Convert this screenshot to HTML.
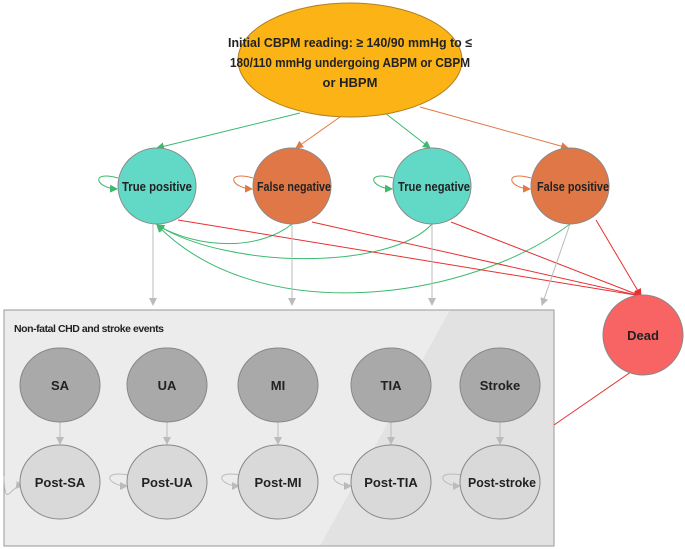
<!DOCTYPE html><html><head><style>body{margin:0;background:#fff}svg{display:block}text{font-family:"Liberation Sans",sans-serif;font-weight:bold;fill:#222}</style></head><body>
<svg width="685" height="549" viewBox="0 0 685 549" xmlns="http://www.w3.org/2000/svg">
<defs>
<marker id="g" markerWidth="8" markerHeight="8" refX="7" refY="4" orient="auto" markerUnits="userSpaceOnUse"><path d="M0,0L8,4L0,8z" fill="#3cba6e"/></marker>
<marker id="o" markerWidth="8" markerHeight="8" refX="7" refY="4" orient="auto" markerUnits="userSpaceOnUse"><path d="M0,0L8,4L0,8z" fill="#e07a45"/></marker>
<marker id="r" markerWidth="8" markerHeight="8" refX="7" refY="4" orient="auto" markerUnits="userSpaceOnUse"><path d="M0,0L8,4L0,8z" fill="#e83030"/></marker>
<marker id="k" markerWidth="8" markerHeight="8" refX="7" refY="4" orient="auto" markerUnits="userSpaceOnUse"><path d="M0,0L8,4L0,8z" fill="#bbb"/></marker>
</defs>
<rect x="4" y="310" width="550" height="236" fill="#ececec" stroke="#999"/>
<polygon points="450,310 554,310 554,546 320,546" fill="#e2e2e2"/>
<rect x="4" y="310" width="550" height="236" fill="none" stroke="#999"/>
<text x="14" y="332" font-size="10.5" font-weight="normal" textLength="150">Non-fatal CHD and stroke events</text>
<g fill="none" stroke-width="1">
<path d="M300,113 L157,148" stroke="#3cba6e" marker-end="url(#g)"/>
<path d="M340,117 L296,148" stroke="#e07a45" marker-end="url(#o)"/>
<path d="M385,113 L430,148" stroke="#3cba6e" marker-end="url(#g)"/>
<path d="M420,107 L568,148" stroke="#e07a45" marker-end="url(#o)"/>
<path d="M118,178 C90,170 95,188 117,189" stroke="#3cba6e" marker-end="url(#g)"/>
<path d="M253,178 C225,170 230,188 252,189" stroke="#e07a45" marker-end="url(#o)"/>
<path d="M393,178 C365,170 370,188 392,189" stroke="#3cba6e" marker-end="url(#g)"/>
<path d="M531,178 C503,170 508,188 530,189" stroke="#e07a45" marker-end="url(#o)"/>
<path d="M292,224 C260,250 200,250 157,225" stroke="#3cba6e" marker-end="url(#g)"/>
<path d="M432,224 C390,270 230,270 157,225" stroke="#3cba6e" marker-end="url(#g)"/>
<path d="M570,224 C470,300 260,330 157,225" stroke="#3cba6e" marker-end="url(#g)"/>
<path d="M178,220 L641,296" stroke="#e83030" marker-end="url(#r)"/>
<path d="M312,222 L641,296" stroke="#e83030" marker-end="url(#r)"/>
<path d="M451,222 L641,296" stroke="#e83030" marker-end="url(#r)"/>
<path d="M596,220 L641,296" stroke="#e83030" marker-end="url(#r)"/>
<path d="M554,425 L641,365" stroke="#e83030" marker-end="url(#r)"/>
<path d="M153,224 L153,305" stroke="#bbb" marker-end="url(#k)"/>
<path d="M292,224 L292,305" stroke="#bbb" marker-end="url(#k)"/>
<path d="M432,224 L432,305" stroke="#bbb" marker-end="url(#k)"/>
<path d="M570,224 L542,305" stroke="#bbb" marker-end="url(#k)"/>
<path d="M60,422 L60,444" stroke="#bbb" marker-end="url(#k)"/>
<path d="M167,422 L167,444" stroke="#bbb" marker-end="url(#k)"/>
<path d="M278,422 L278,444" stroke="#bbb" marker-end="url(#k)"/>
<path d="M391,422 L391,444" stroke="#bbb" marker-end="url(#k)"/>
<path d="M500,422 L500,444" stroke="#bbb" marker-end="url(#k)"/>
<path d="M4,476 C5,512 10,484 23,486" stroke="#bbb" marker-end="url(#k)"/>
<path d="M128,475 C100,470 108,486 127,486" stroke="#bbb" marker-end="url(#k)"/>
<path d="M240,475 C212,470 220,486 239,486" stroke="#bbb" marker-end="url(#k)"/>
<path d="M352,475 C324,470 332,486 351,486" stroke="#bbb" marker-end="url(#k)"/>
<path d="M461,475 C433,470 441,486 460,486" stroke="#bbb" marker-end="url(#k)"/>
</g>
<ellipse cx="350" cy="60" rx="112" ry="57" fill="#fbb316" stroke="#b08020"/>
<text x="350" y="47" font-size="13" text-anchor="middle" textLength="244" lengthAdjust="spacingAndGlyphs">Initial CBPM reading: ≥ 140/90 mmHg to ≤</text>
<text x="350" y="67" font-size="13" text-anchor="middle" textLength="240" lengthAdjust="spacingAndGlyphs">180/110 mmHg undergoing ABPM or CBPM</text>
<text x="350" y="87" font-size="13" text-anchor="middle">or HBPM</text>
<g stroke="#888">
<ellipse cx="157" cy="186" rx="39" ry="38" fill="#62d8c6"/>
<ellipse cx="292" cy="186" rx="39" ry="38" fill="#df7846"/>
<ellipse cx="432" cy="186" rx="39" ry="38" fill="#62d8c6"/>
<ellipse cx="570" cy="186" rx="39" ry="38" fill="#df7846"/>
<ellipse cx="643" cy="335" rx="40" ry="40" fill="#f86464"/>
<ellipse cx="60" cy="385" rx="40" ry="37" fill="#a9a9a9"/>
<ellipse cx="167" cy="385" rx="40" ry="37" fill="#a9a9a9"/>
<ellipse cx="278" cy="385" rx="40" ry="37" fill="#a9a9a9"/>
<ellipse cx="391" cy="385" rx="40" ry="37" fill="#a9a9a9"/>
<ellipse cx="500" cy="385" rx="40" ry="37" fill="#a9a9a9"/>
<ellipse cx="60" cy="482" rx="40" ry="37" fill="#d9d9d9"/>
<ellipse cx="167" cy="482" rx="40" ry="37" fill="#d9d9d9"/>
<ellipse cx="278" cy="482" rx="40" ry="37" fill="#d9d9d9"/>
<ellipse cx="391" cy="482" rx="40" ry="37" fill="#d9d9d9"/>
<ellipse cx="500" cy="482" rx="40" ry="37" fill="#d9d9d9"/>
</g>
<g font-size="13" text-anchor="middle">
<text x="157" y="191" textLength="70" lengthAdjust="spacingAndGlyphs">True positive</text>
<text x="294" y="191" textLength="74" lengthAdjust="spacingAndGlyphs">False negative</text>
<text x="434" y="191" textLength="72" lengthAdjust="spacingAndGlyphs">True negative</text>
<text x="573" y="191" textLength="72" lengthAdjust="spacingAndGlyphs">False positive</text>
<text x="643" y="340">Dead</text>
<text x="60" y="390">SA</text><text x="167" y="390">UA</text><text x="278" y="390">MI</text><text x="391" y="390">TIA</text><text x="500" y="390">Stroke</text>
<text x="60" y="487">Post-SA</text><text x="167" y="487">Post-UA</text><text x="278" y="487">Post-MI</text><text x="391" y="487">Post-TIA</text><text x="502" y="487" textLength="68" lengthAdjust="spacingAndGlyphs">Post-stroke</text>
</g>
</svg></body></html>
